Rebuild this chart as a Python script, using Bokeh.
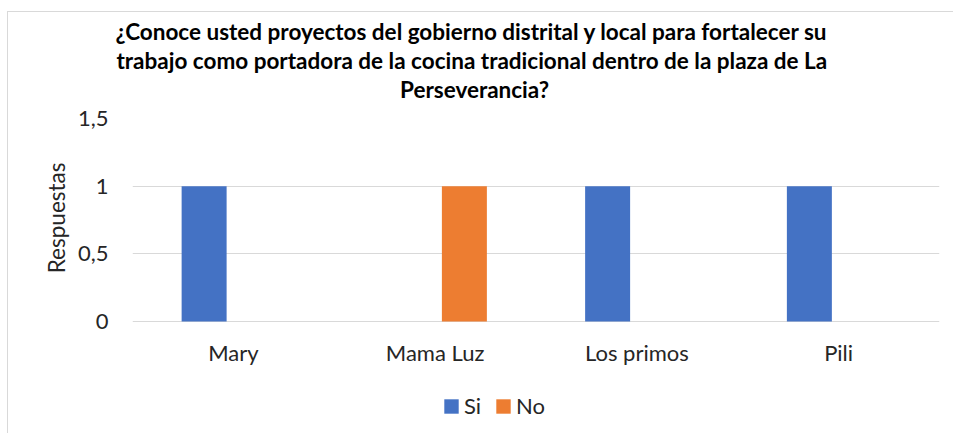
from bokeh.plotting import figure
from bokeh.models import (FactorRange, Range1d, FixedTicker, Legend, LegendItem,
                          Title, ColumnDataSource)
from bokeh.core.properties import value
from bokeh.transform import dodge
from bokeh.embed import file_html
from bokeh.resources import INLINE

categories = ["Mary", "Mama Luz", "Los primos", "Pili"]
si = [1, 0, 1, 1]
no = [0, 1, 0, 0]
series_names = ["Si", "No"]
series_colors = ["#4472C4", "#ED7D31"]
y_ticks = [0, 0.5, 1, 1.5]
y_tick_labels = ["0", "0,5", "1", "1,5"]
y_axis_title = "Respuestas"
title_lines = [
    "¿Conoce usted proyectos del gobierno distrital y local para fortalecer su",
    "trabajo como portadora de la cocina tradicional dentro de la plaza de La",
    "Perseverancia?",
]

FONT = "Lato"
TEXT = "#262626"

src = ColumnDataSource(dict(cat=categories, si=si, no=no,
                            zero=[0] * len(categories)))

# the frame reaches down into the legend area, so the category labels are drawn as text
p = figure(x_range=FactorRange(*categories, range_padding=0),
           y_range=Range1d(-0.761, 1.5),
           width=946, height=422,
           output_backend="svg", toolbar_location=None,
           min_border_left=124, min_border_right=15,
           min_border_top=106, min_border_bottom=10)
p.title = None
p.outline_line_color = None
p.background_fill_color = "white"
p.border_fill_color = "white"

bw = 0.223
off = 0.145
r_si = p.vbar(x=dodge("cat", -off, range=p.x_range), top="si", width=bw,
              source=src, fill_color=series_colors[0], line_color=None)
r_no = p.vbar(x=dodge("cat", off, range=p.x_range), top="no", width=bw,
              source=src, fill_color=series_colors[1], line_color=None)

# category labels under the baseline
p.text(x="cat", y="zero", text="cat", source=src, y_offset=31,
       text_align="center", text_baseline="middle",
       text_font=value(FONT), text_font_size="22px", text_color=TEXT)

# titles: spacer first (closest to frame), then lines bottom-up
p.add_layout(Title(text=" ", text_font_size="12px", standoff=0), "above")
offsets = [267.5, -16, -17]
for i, line in enumerate(reversed(title_lines)):
    t = Title(text=line, align="left", text_font=FONT, text_font_size="22.5px",
              text_font_style="bold", text_color="black", offset=offsets[i],
              standoff=0)
    p.add_layout(t, "above")

# y axis
p.yaxis.ticker = FixedTicker(ticks=y_ticks)
p.yaxis.major_label_overrides = {t: l for t, l in zip(y_ticks, y_tick_labels)}
p.yaxis.axis_line_color = None
p.yaxis.major_tick_line_color = None
p.yaxis.minor_tick_line_color = None
p.yaxis.major_tick_out = 0
p.yaxis.major_label_standoff = 24
p.yaxis.major_label_text_font = FONT
p.yaxis.major_label_text_font_size = "22px"
p.yaxis.major_label_text_color = TEXT
p.add_layout(Title(text=y_axis_title, align="right", offset=44,
                   text_font=FONT, text_font_size="22.5px",
                   text_font_style="normal", text_color=TEXT, standoff=10),
             "left")

p.xaxis.visible = False
p.xgrid.grid_line_color = None
p.ygrid.grid_line_color = "#D9D9D9"
p.ygrid.grid_line_width = 1

legend = Legend(items=[LegendItem(label=series_names[0], renderers=[r_si]),
                       LegendItem(label=series_names[1], renderers=[r_no])],
                orientation="horizontal", location=(310, 5),
                glyph_width=18, glyph_height=18, label_standoff=4, spacing=10,
                label_text_font=FONT, label_text_font_size="22px",
                label_text_color=TEXT, border_line_color=None,
                background_fill_alpha=0, margin=0, padding=0)
p.add_layout(legend, "center")

p.styles = {"margin-left": "7px", "margin-top": "11px",
            "border-left": "1px solid #D9D9D9", "border-top": "1px solid #D9D9D9"}

open("out.html", "w").write(file_html(p, INLINE))
